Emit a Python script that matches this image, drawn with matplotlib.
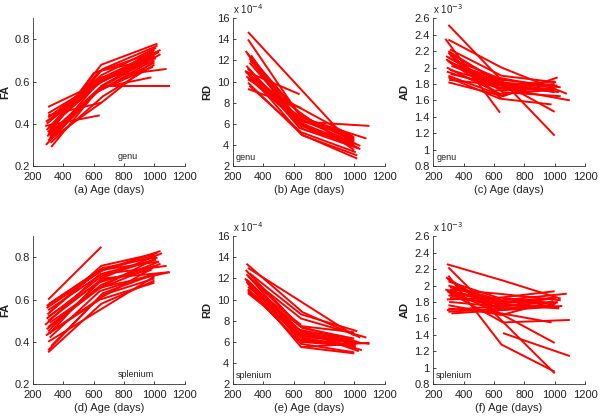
import numpy as np
import matplotlib
matplotlib.use("Agg")
import matplotlib.pyplot as plt
from matplotlib.ticker import FormatStrFormatter

plt.rcParams['font.family'] = ['Liberation Sans', 'DejaVu Sans']

nan = np.nan

# scan ages (days) for each subject, three visits (nan = missing visit)
genu_t1 = [300, 280, 285, 300, 310, 290, 320, 300, 310, 295, 305, 300,
           315, 290, 300, nan, 300, 310, 285, 300, 320, 300, 300, 310]
genu_t2 = [nan, 640, 620, 650, 660, 630, 650, 640, 650, 600, 650, 650,
           660, 640, 620, 650, 650, 640, 630, 660, 650, nan, 650, 640]
genu_t3 = [1000, nan, 990, 1020, 1040, 1000, 1000, 980, 1010, 1000, 1030, nan,
           1000, 1010, 1000, 1100, 1080, 990, 1000, 1020, 1000, 1000, 960, 1040]

spl_t1 = [300, 290, 300, 280, 310, 300, 290, 300, 310, 300, 320, 295,
          300, 285, 305, 300, 310, 300, 290, 300, 310, nan, 300, 290]
spl_t2 = [650, 660, 650, 640, 650, 630, 650, 660, 640, 650, 650, 620,
          650, 640, 660, 650, 630, nan, 650, 660, 650, 660, 650, 640]
spl_t3 = [nan, 1040, 1000, 1010, 1050, 1000, 1020, 1100, 990, 1080, 1000, 1000,
          1030, 1000, 1010, 980, 1040, 1000, 1010, 1000, 1020, 1100, 990, 1030]

# genu values (RD in units of 1e-4, AD in units of 1e-3)
fa_genu = [[0.48, nan, 0.72], [0.39, 0.44, nan], [0.30, 0.55, 0.70], [0.36, 0.68, 0.78],
           [0.33, 0.62, 0.75], [0.40, 0.60, 0.73], [0.29, 0.58, 0.72], [0.35, 0.57, 0.62],
           [0.42, 0.63, 0.76], [0.34, 0.64, 0.74], [0.38, 0.60, 0.74], [0.44, 0.50, nan],
           [0.31, 0.53, 0.68], [0.37, 0.65, 0.71], [0.32, 0.55, 0.69], [nan, 0.58, 0.58],
           [0.43, 0.62, 0.66], [0.35, 0.56, 0.67], [0.41, 0.59, 0.72], [0.36, 0.66, 0.77],
           [0.33, 0.50, 0.70], [0.45, nan, 0.75], [0.38, 0.61, 0.69], [0.34, 0.57, 0.73]]
rd_genu = [[14.7, nan, 3.8], [11.0, 8.8, nan], [12.9, 6.0, 4.2], [10.8, 5.0, 2.7],
           [12.2, 5.5, 3.6], [10.5, 6.2, 4.0], [12.5, 5.8, 3.9], [11.2, 6.4, 5.0],
           [9.6, 5.2, 3.3], [12.7, 7.0, 4.4], [10.6, 6.0, 3.7], [9.3, 7.5, nan],
           [12.0, 6.6, 4.6], [11.5, 5.6, 4.1], [10.4, 6.9, 4.5], [nan, 6.2, 5.8],
           [14.0, 6.6, 4.6], [11.8, 6.3, 4.8], [10.9, 7.2, 3.5], [9.9, 4.9, 3.0],
           [12.3, 6.8, 4.3], [10.2, nan, 4.7], [11.3, 5.9, 4.4], [10.7, 6.5, 3.9]]
ad_genu = [[2.52, nan, 1.17], [2.35, 1.45, nan], [2.10, 1.75, 1.72], [2.20, 1.80, 1.78],
           [2.15, 1.70, 1.65], [1.95, 1.75, 1.80], [2.05, 1.85, 1.78], [1.88, 1.62, 1.55],
           [2.22, 1.90, 1.82], [2.08, 1.72, 1.75], [1.85, 1.78, 1.70], [2.18, 1.62, nan],
           [1.92, 1.78, 1.83], [2.00, 1.68, 1.73], [2.12, 1.88, 1.75], [nan, 1.75, 1.60],
           [2.34, 2.00, 1.68], [1.97, 1.80, 1.77], [2.14, 1.76, 1.74], [1.82, 1.65, 1.88],
           [2.02, 1.80, 1.70], [2.18, nan, 1.46], [1.90, 1.66, 1.79], [2.06, 1.82, 1.76]]

# splenium values
fa_spl = [[0.60, 0.85, nan], [0.56, 0.74, 0.83], [0.35, 0.58, 0.69], [0.48, 0.72, 0.79],
          [0.44, 0.70, 0.82], [0.52, 0.68, 0.76], [0.46, 0.66, 0.80], [0.50, 0.70, 0.73],
          [0.42, 0.64, 0.72], [0.55, 0.72, 0.76], [0.38, 0.62, 0.70], [0.53, 0.73, 0.81],
          [0.47, 0.67, 0.78], [0.43, 0.60, 0.68], [0.58, 0.75, 0.80], [0.45, 0.69, 0.74],
          [0.49, 0.65, 0.77], [0.40, nan, 0.71], [0.51, 0.71, 0.79], [0.36, 0.63, 0.72],
          [0.54, 0.76, 0.82], [nan, 0.66, 0.73], [0.44, 0.61, 0.75], [0.57, 0.74, 0.78]]
rd_spl = [[11.5, 7.6, nan], [13.4, 8.8, 6.4], [11.0, 5.8, 5.0], [12.0, 6.2, 5.7],
          [11.3, 7.0, 5.2], [10.6, 6.8, 5.8], [12.4, 7.4, 6.0], [11.8, 6.5, 5.8],
          [10.8, 6.0, 5.6], [12.2, 8.2, 6.4], [11.1, 5.5, 4.9], [11.6, 7.2, 6.1],
          [10.9, 6.6, 5.9], [12.8, 7.5, 6.9], [11.4, 6.3, 5.5], [10.7, 7.0, 6.2],
          [12.1, 6.9, 5.9], [13.0, nan, 6.6], [11.7, 6.1, 5.7], [11.2, 7.3, 6.3],
          [12.5, 8.6, 7.0], [nan, 5.5, 5.9], [10.9, 6.4, 5.6], [11.9, 7.1, 5.1]]
ad_spl = [[1.94, 1.65, nan], [2.26, 2.06, 1.84], [2.12, 1.28, 0.95], [1.95, 1.80, 1.85],
          [1.90, 1.72, 1.75], [2.05, 1.85, 1.93], [1.70, 1.75, 1.80], [1.92, 1.55, 1.58],
          [1.85, 1.78, 1.84], [2.00, 1.82, 1.90], [1.66, 1.70, 1.74], [2.08, 1.68, 1.30],
          [1.88, 1.76, 1.73], [2.10, 1.70, 1.77], [1.80, 1.74, 1.86], [1.72, 1.66, 1.55],
          [1.95, 1.90, 1.82], [2.22, nan, 0.93], [1.83, 1.85, 1.78], [1.68, 1.72, 1.76],
          [1.98, 1.80, 1.79], [nan, 1.42, 1.14], [1.76, 1.64, 1.81], [1.93, 1.78, 1.72]]


def draw_panel(ax, t1, t2, t3, vals, ylabel, xlabel, ylim, yticks, label, label_pos, scale=None):
    for i in range(len(t1)):
        t = np.array([t1[i], t2[i], t3[i]], dtype=float)
        v = np.array(vals[i], dtype=float)
        ok = ~np.isnan(t) & ~np.isnan(v)
        ax.plot(t[ok], v[ok], color='#ff0000', lw=1.4, solid_capstyle='butt')
    ax.set_xlim(200, 1200)
    ax.set_ylim(*ylim)
    ax.set_xticks([200, 400, 600, 800, 1000, 1200])
    ax.set_yticks(yticks)
    ax.yaxis.set_major_formatter(FormatStrFormatter('%g'))
    ax.spines['top'].set_visible(False)
    ax.spines['right'].set_visible(False)
    ax.tick_params(direction='in', length=2.5, labelsize=8, colors='#222222', width=0.6)
    ax.tick_params(axis='x', pad=4.5)
    ax.tick_params(axis='y', pad=2.5)
    for s in ['left', 'bottom']:
        ax.spines[s].set_linewidth(0.6)
        ax.spines[s].set_color('#333333')
    ax.set_xlabel(xlabel, fontsize=8, color='#222222', labelpad=2)
    ax.set_ylabel(ylabel, fontsize=8, fontweight='bold', color='#222222', labelpad=3)
    ax.text(label_pos[0], label_pos[1], label, transform=ax.transAxes, fontsize=6.5, color='#222222')
    if scale:
        ax.text(0.0, 1.015, scale, transform=ax.transAxes, fontsize=7, color='#222222', va='bottom')


fig = plt.figure(figsize=(6.0, 4.16), dpi=100)
lefts = [0.055, 0.388, 0.722]
w = 0.253
top_b, bot_b, h = 0.601, 0.077, 0.355

axes = [[fig.add_axes([l, top_b, w, h]) for l in lefts],
        [fig.add_axes([l, bot_b, w, h]) for l in lefts]]

fa_ticks = [0.2, 0.4, 0.6, 0.8]
rd_ticks = [2, 4, 6, 8, 10, 12, 14, 16]
ad_ticks = [0.8, 1.0, 1.2, 1.4, 1.6, 1.8, 2.0, 2.2, 2.4, 2.6]

draw_panel(axes[0][0], genu_t1, genu_t2, genu_t3, fa_genu, 'FA', '(a) Age (days)',
           (0.2, 0.9), fa_ticks, 'genu', (0.56, 0.05))
draw_panel(axes[0][1], genu_t1, genu_t2, genu_t3, rd_genu, 'RD', '(b) Age (days)',
           (2, 16), rd_ticks, 'genu', (0.02, 0.04), r'x 10$^{-4}$')
draw_panel(axes[0][2], genu_t1, genu_t2, genu_t3, ad_genu, 'AD', '(c) Age (days)',
           (0.8, 2.6), ad_ticks, 'genu', (0.02, 0.04), r'x 10$^{-3}$')
draw_panel(axes[1][0], spl_t1, spl_t2, spl_t3, fa_spl, 'FA', '(d) Age (days)',
           (0.2, 0.9), fa_ticks, 'splenium', (0.56, 0.05))
draw_panel(axes[1][1], spl_t1, spl_t2, spl_t3, rd_spl, 'RD', '(e) Age (days)',
           (2, 16), rd_ticks, 'splenium', (0.02, 0.04), r'x 10$^{-4}$')
draw_panel(axes[1][2], spl_t1, spl_t2, spl_t3, ad_spl, 'AD', '(f) Age (days)',
           (0.8, 2.6), ad_ticks, 'splenium', (0.02, 0.04), r'x 10$^{-3}$')

fig.savefig('out.png', dpi=100)
